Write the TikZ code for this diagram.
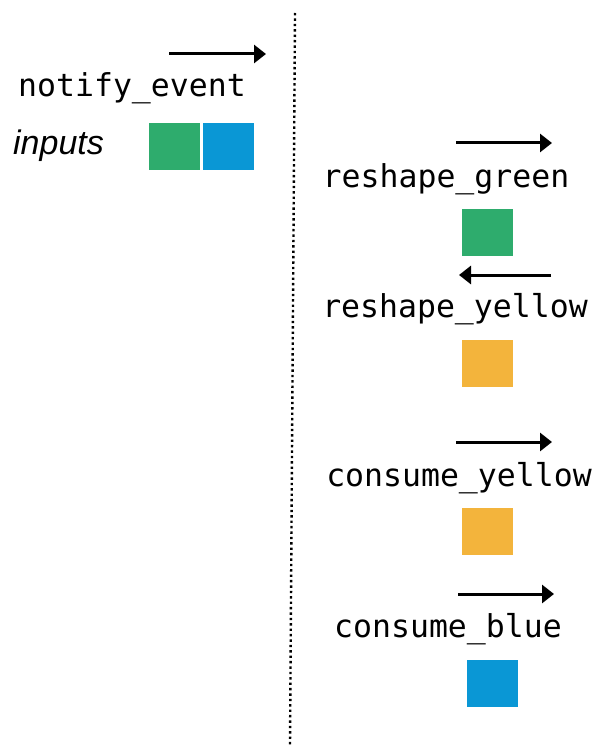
\documentclass[tikz,border=0pt]{standalone}
\usepackage{fontspec}
\setmainfont{Liberation Sans}
\newfontfamily\codefont{DejaVu Sans Mono}
\usetikzlibrary{arrows.meta}
\definecolor{tokgreen}{HTML}{2EAC6D}
\definecolor{tokblue}{HTML}{0A97D5}
\definecolor{tokyellow}{HTML}{F3B43C}
\begin{document}
\begin{tikzpicture}[x=1pt,y=-1pt,
  flow/.style={line width=3pt,-{Triangle[length=12pt,width=18pt]}},
  code/.style={font=\codefont\fontsize{31.5}{36}\selectfont,anchor=base,inner sep=0pt},
  token/.style={minimum width=51pt,minimum height=47pt,inner sep=0pt,anchor=north west}]
\useasboundingbox[fill=white] (0,0) rectangle (595,746);

% divider between caller and callees
\coordinate (divtop) at (295,13);
\coordinate (divbot) at (290,745);
\draw[line width=2.4pt,dash pattern=on 2.4pt off 3pt] (divtop) -- (divbot);

% caller side
\coordinate (n1) at (169,54); \coordinate (n2) at (266,54);
\draw[flow] (n1) -- (n2);
\node[code] (notify) at (132,97) {notify\_event};
\node[anchor=base west,inner sep=0pt,font=\itshape\fontsize{34}{38}\selectfont] (inputs) at (13,155) {inputs};
\node[token,fill=tokgreen] (ingreen) at (149,123) {};
\node[token,fill=tokblue] (inblue) at (203,123) {};

% callees
\coordinate (r1) at (456,143); \coordinate (r2) at (552,143);
\draw[flow] (r1) -- (r2);
\node[code] (rgreen) at (446,187) {reshape\_green};
\node[token,fill=tokgreen] (sqrg) at (462,209) {};

\coordinate (y1) at (551,275); \coordinate (y2) at (459,275);
\draw[flow] (y1) -- (y2);
\node[code] (ryellow) at (455,317) {reshape\_yellow};
\node[token,fill=tokyellow] (sqry) at (462,340) {};

\coordinate (c1) at (456,442); \coordinate (c2) at (552,442);
\draw[flow] (c1) -- (c2);
\node[code] (cyellow) at (459,486) {consume\_yellow};
\node[token,fill=tokyellow] (sqcy) at (462,508) {};

\coordinate (b1) at (458,594); \coordinate (b2) at (554,594);
\draw[flow] (b1) -- (b2);
\node[code] (cblue) at (448,637) {consume\_blue};
\node[token,fill=tokblue] (sqcb) at (467,660) {};
\end{tikzpicture}
\end{document}
